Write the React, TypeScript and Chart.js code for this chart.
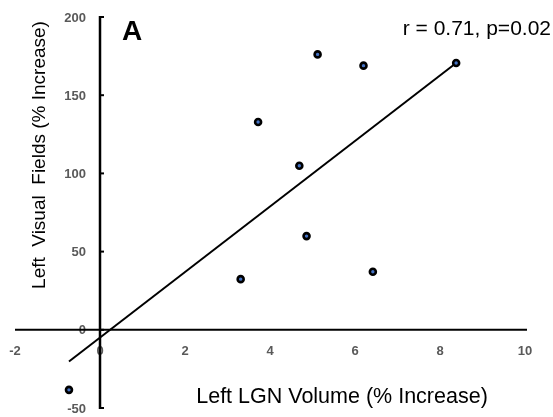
import React, { useEffect, useRef } from "react";
import { Chart, registerables } from "chart.js";

Chart.register(...registerables);

const xValues = [-0.73, 3.31, 4.86, 4.69, 6.42, 3.72, 5.12, 6.2, 8.38];
const yValues = [-38.4, 32.4, 59.9, 104.9, 37.1, 132.9, 176.1, 168.9, 170.6];
const trendX = [-0.73, 8.38];
const trendY = [-20.3, 170.6];
const xTicks = [-2, 0, 2, 4, 6, 8, 10];
const yTicks = [-50, 0, 50, 100, 150, 200];
const xTitle = "Left LGN Volume (% Increase)";
const yTitle = "Left  Visual  Fields (% Increase)";
const panelLabel = "A";
const statsLabel = "r = 0.71, p=0.02";

const FONT = "'Liberation Sans', Arial, sans-serif";

const axesPlugin = {
  id: "customAxes",
  beforeDatasetsDraw(chart: any) {
    const ctx = chart.ctx;
    const xs = chart.scales.x;
    const ys = chart.scales.y;
    const x0 = xs.getPixelForValue(0);
    const y0 = ys.getPixelForValue(0);
    ctx.save();
    // tick labels
    ctx.fillStyle = "#595959";
    ctx.font = `bold 13px ${FONT}`;
    ctx.textAlign = "center";
    ctx.textBaseline = "middle";
    xTicks.forEach((v) => {
      ctx.fillText(String(v), xs.getPixelForValue(v), y0 + 22);
    });
    ctx.textAlign = "right";
    yTicks.forEach((v) => {
      ctx.fillText(String(v), x0 - 14, ys.getPixelForValue(v) + 1);
    });
    // axis lines
    ctx.strokeStyle = "#000";
    ctx.lineWidth = 2;
    ctx.beginPath();
    ctx.moveTo(xs.getPixelForValue(xTicks[0]), y0);
    ctx.lineTo(xs.getPixelForValue(xTicks[xTicks.length - 1]) + 2, y0);
    ctx.stroke();
    ctx.lineWidth = 2.5;
    ctx.beginPath();
    ctx.moveTo(x0, ys.getPixelForValue(yTicks[yTicks.length - 1]) - 1);
    ctx.lineTo(x0, ys.getPixelForValue(yTicks[0]) + 1);
    ctx.stroke();
    ctx.lineWidth = 2;
    yTicks.forEach((v) => {
      const p = ys.getPixelForValue(v);
      ctx.beginPath();
      ctx.moveTo(x0, p);
      ctx.lineTo(x0 + 4, p);
      ctx.stroke();
    });
    // titles
    ctx.fillStyle = "#000";
    ctx.font = `21.5px ${FONT}`;
    ctx.textAlign = "center";
    ctx.textBaseline = "middle";
    ctx.fillText(xTitle, 342, 397);
    ctx.save();
    ctx.translate(40, 155);
    ctx.rotate(-Math.PI / 2);
    ctx.font = `19px ${FONT}`;
    ctx.fillText(yTitle, 0, 0);
    ctx.restore();
    ctx.font = `bold 28px ${FONT}`;
    ctx.textAlign = "left";
    ctx.textBaseline = "alphabetic";
    ctx.fillText(panelLabel, 122, 40);
    ctx.font = `21px ${FONT}`;
    ctx.textAlign = "right";
    ctx.fillText(statsLabel, 551, 35);
    ctx.restore();
  },
};

export default function App() {
  const ref = useRef<HTMLCanvasElement | null>(null);
  useEffect(() => {
    document.body.style.margin = "0";
    const canvas = ref.current;
    if (!canvas) return;
    const chart = new Chart(canvas, {
      type: "scatter",
      data: {
        datasets: [
          {
            label: "points",
            data: xValues.map((x, i) => ({ x, y: yValues[i] })),
            pointRadius: 3,
            pointBorderWidth: 2.6,
            pointBackgroundColor: "#4472C4",
            pointBorderColor: "#000",
            showLine: false,
          },
          {
            label: "trend",
            data: trendX.map((x, i) => ({ x, y: trendY[i] })),
            showLine: true,
            borderColor: "#000",
            borderWidth: 2,
            pointRadius: 0,
          },
        ],
      },
      options: {
        animation: false,
        responsive: false,
        maintainAspectRatio: false,
        layout: { padding: { left: 15, right: 28, top: 17, bottom: 9 } },
        plugins: { legend: { display: false }, tooltip: { enabled: false } },
        scales: {
          x: { type: "linear", min: -2, max: 10, display: false },
          y: { type: "linear", min: -50, max: 200, display: false },
        },
      },
      plugins: [axesPlugin],
    });
    return () => chart.destroy();
  }, []);
  return <canvas ref={ref} width={553} height={417} style={{ display: "block" }} />;
}
